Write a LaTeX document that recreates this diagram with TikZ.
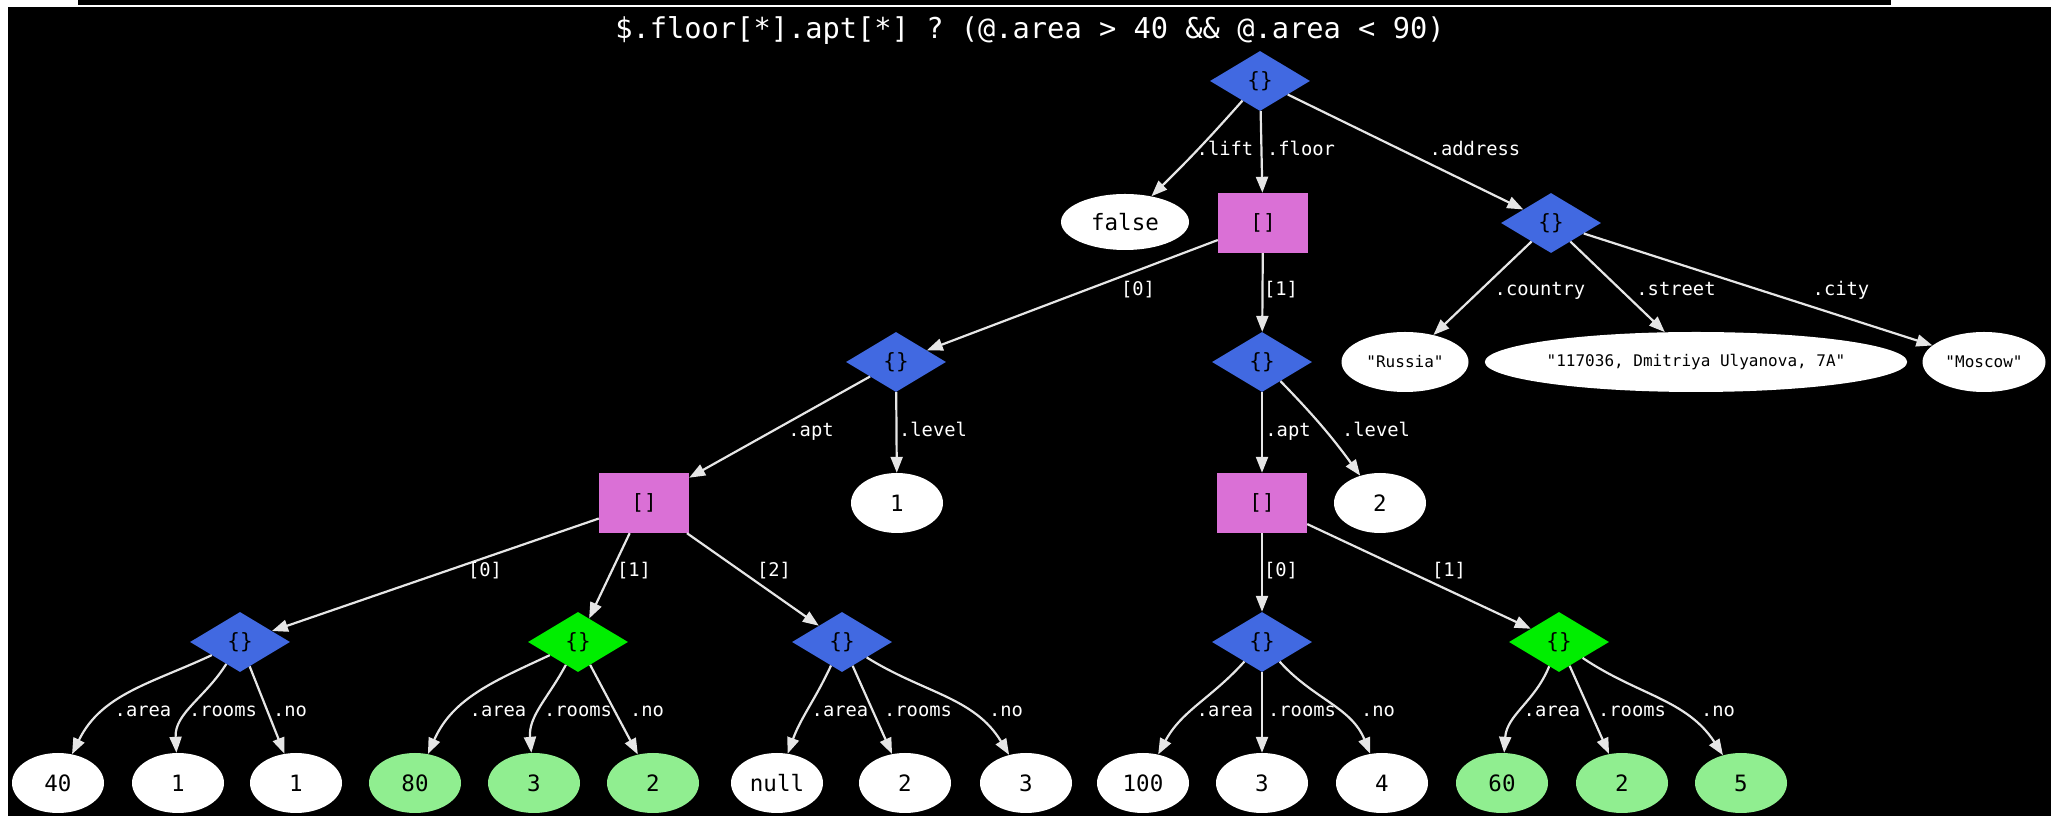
\documentclass[tikz,border=0pt]{standalone}
\usepackage{fontspec}
\setmonofont{DejaVu Sans Mono}
\usetikzlibrary{shapes.geometric,arrows.meta}

\definecolor{objblue}{HTML}{4169E1}
\definecolor{arrpink}{HTML}{DA70D6}
\definecolor{hitgreen}{HTML}{00EE00}
\definecolor{leafgreen}{HTML}{90EE90}
\definecolor{edgegray}{HTML}{E6E6E6}

\tikzset{
  objnode/.style={diamond, fill=objblue, minimum width=100pt, minimum height=60pt,
    inner sep=0pt, text=black, font=\ttfamily\fontsize{21}{21}\selectfont},
  hitobj/.style={objnode, fill=hitgreen},
  arrnode/.style={rectangle, fill=arrpink, minimum width=90pt, minimum height=60pt,
    inner sep=0pt, text=black, font=\ttfamily\fontsize{21}{21}\selectfont},
  leaf/.style={ellipse, fill=white, minimum width=92pt, minimum height=60pt,
    inner sep=0pt, text=black, font=\ttfamily\fontsize{22.5}{23}\selectfont},
  hitleaf/.style={leaf, fill=leafgreen},
  strleaf/.style={ellipse, fill=white, minimum height=60pt, inner sep=0pt,
    text=black, font=\ttfamily\fontsize{16}{16}\selectfont},
  elabel/.style={text=white, inner sep=0pt, text height=14pt, text depth=4pt,
    font=\ttfamily\fontsize{18.8}{19}\selectfont},
  link/.style={draw=edgegray, line width=2.2pt, -{Triangle[length=16pt,width=12pt]}},
}

\begin{document}
\begin{tikzpicture}[x=1pt,y=1pt]
% page and dark canvas
\useasboundingbox (0,0) rectangle (2051,816);
\fill[white] (0,0) rectangle (2051,816);
\fill[black] (8,0) rectangle (2051,809);
\fill[black] (78,811) rectangle (1891,816);

% query
\node[text=white, inner sep=0pt, font=\ttfamily\fontsize{28.7}{30}\selectfont] (query) at (1030,785)
  {\$.floor[*].apt[*] ? (@.area > 40 \&\& @.area < 90)};

% document tree
\node[objnode] (root) at (1260,735) {\{\}};
\node[leaf, minimum width=128pt, minimum height=56pt] (lift) at (1125,594) {false};
\node[arrnode] (floor) at (1263,593) {[]};
\node[objnode] (addr) at (1551,593) {\{\}};
\node[strleaf, minimum width=127pt] (country) at (1405,454) {"Russia"};
\node[strleaf, minimum width=395pt] (street) at (1696,454) {"117036, Dmitriya Ulyanova, 7A"};
\node[strleaf, minimum width=123pt] (city) at (1984,454) {"Moscow"};
\node[objnode] (f0) at (896,454) {\{\}};
\node[objnode] (f1) at (1262,454) {\{\}};
\node[arrnode] (apt0) at (644,313) {[]};
\node[leaf] (lv0) at (897,313) {1};
\node[arrnode] (apt1) at (1262,313) {[]};
\node[leaf] (lv1) at (1380,313) {2};

% apartments
\node[objnode] (a00) at (240,174) {\{\}};
\node[hitobj]  (a01) at (578,174) {\{\}};
\node[objnode] (a02) at (842,174) {\{\}};
\node[objnode] (a10) at (1262,174) {\{\}};
\node[hitobj]  (a11) at (1559,174) {\{\}};

% apartment fields
\node[leaf] (a00area) at (58,33) {40};
\node[leaf] (a00rooms) at (178,33) {1};
\node[leaf] (a00no) at (296,33) {1};
\node[hitleaf] (a01area) at (415,33) {80};
\node[hitleaf] (a01rooms) at (534,33) {3};
\node[hitleaf] (a01no) at (653,33) {2};
\node[leaf] (a02area) at (777,33) {null};
\node[leaf] (a02rooms) at (905,33) {2};
\node[leaf] (a02no) at (1026,33) {3};
\node[leaf] (a10area) at (1143,33) {100};
\node[leaf] (a10rooms) at (1262,33) {3};
\node[leaf] (a10no) at (1382,33) {4};
\node[hitleaf] (a11area) at (1502,33) {60};
\node[hitleaf] (a11rooms) at (1622,33) {2};
\node[hitleaf] (a11no) at (1741,33) {5};

% connectors
\draw[link] (root) to[bend left=2] (lift);
\draw[link] (root) -- (floor);
\draw[link] (root) -- (addr);
\draw[link] (addr) -- (country);
\draw[link] (addr) -- (street);
\draw[link] (addr) -- (city);
\draw[link] (floor) -- (f0);
\draw[link] (floor) -- (f1);
\draw[link] (f0) -- (apt0);
\draw[link] (f0) -- (lv0);
\draw[link] (f1) -- (apt1);
\draw[link] (f1) to[bend left=4] (lv1);
\draw[link] (apt0) -- (a00);
\draw[link] (apt0) -- (a01);
\draw[link] (apt0) -- (a02);
\draw[link] (apt1) -- (a10);
\draw[link] (apt1) -- (a11);

\draw[link] (a00) to[out=205,in=64] (a00area);
\draw[link] (a00) to[out=238,in=93] (a00rooms);
\draw[link] (a00) -- (a00no);
\draw[link] (a01) to[out=205,in=66] (a01area);
\draw[link] (a01) to[out=242,in=95] (a01rooms);
\draw[link] (a01) -- (a01no);
\draw[link] (a02) to[out=245,in=70] (a02area);
\draw[link] (a02) -- (a02rooms);
\draw[link] (a02) to[out=-32,in=121] (a02no);
\draw[link] (a10) to[out=228,in=62] (a10area);
\draw[link] (a10) -- (a10rooms);
\draw[link] (a10) to[out=-48,in=112] (a10no);
\draw[link] (a11) to[out=248,in=86] (a11area);
\draw[link] (a11) -- (a11rooms);
\draw[link] (a11) to[out=-34,in=123] (a11no);

% connector labels
\node[elabel] (t1) at (1225,665) {.lift};
\node[elabel] (t2) at (1301,665) {.floor};
\node[elabel] (t3) at (1475,665) {.address};
\node[elabel] (t4) at (1138,525) {[0]};
\node[elabel] (t5) at (1281,525) {[1]};
\node[elabel] (t6) at (1540,525) {.country};
\node[elabel] (t7) at (1676,525) {.street};
\node[elabel] (t8) at (1841,525) {.city};
\node[elabel] (t9) at (811,384) {.apt};
\node[elabel] (t10) at (933,384) {.level};
\node[elabel] (t11) at (1288,384) {.apt};
\node[elabel] (t12) at (1376,384) {.level};
\node[elabel] (t13) at (485,244) {[0]};
\node[elabel] (t14) at (634,244) {[1]};
\node[elabel] (t15) at (774,244) {[2]};
\node[elabel] (t16) at (1281,244) {[0]};
\node[elabel] (t17) at (1449,244) {[1]};
\node[elabel] (u1) at (143,104) {.area};
\node[elabel] (u2) at (223,104) {.rooms};
\node[elabel] (u3) at (290,104) {.no};
\node[elabel] (u4) at (498,104) {.area};
\node[elabel] (u5) at (578,104) {.rooms};
\node[elabel] (u6) at (647,104) {.no};
\node[elabel] (u7) at (840,104) {.area};
\node[elabel] (u8) at (918,104) {.rooms};
\node[elabel] (u9) at (1006,104) {.no};
\node[elabel] (u10) at (1225,104) {.area};
\node[elabel] (u11) at (1302,104) {.rooms};
\node[elabel] (u12) at (1378,104) {.no};
\node[elabel] (u13) at (1552,104) {.area};
\node[elabel] (u14) at (1632,104) {.rooms};
\node[elabel] (u15) at (1718,104) {.no};
\end{tikzpicture}
\end{document}
